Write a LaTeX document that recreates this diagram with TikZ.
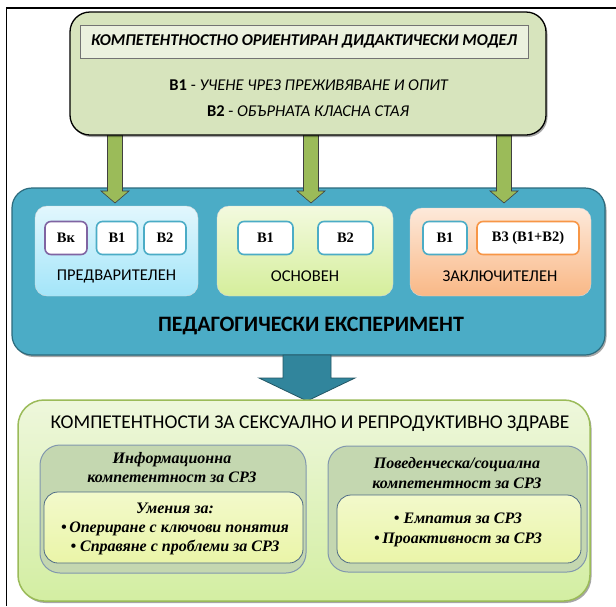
\documentclass[tikz,border=0pt]{standalone}
\usepackage{fontspec}
\setmainfont{Carlito}
\newfontfamily\tnr{Liberation Serif}
\usetikzlibrary{shadows}
\definecolor{topfill}{HTML}{D7E4BD}
\definecolor{titlefill}{HTML}{EBF1DE}
\definecolor{agreen}{HTML}{9BBB59}
\definecolor{bluebox}{HTML}{4BACC6}
\definecolor{blueedge}{HTML}{2C6B7D}
\definecolor{teal}{HTML}{31859C}
\definecolor{purp}{HTML}{8064A2}
\definecolor{orng}{HTML}{F79646}
\definecolor{grayg}{HTML}{C4D7B0}
\definecolor{grayedge}{HTML}{8197AE}
\definecolor{yell}{HTML}{EAF5A8}
\definecolor{yelledge}{HTML}{4D6A86}
\definecolor{predtop}{HTML}{E2F7FD}
\definecolor{predbot}{HTML}{A3E5F9}
\definecolor{osntop}{HTML}{F3FADF}
\definecolor{osnbot}{HTML}{D5EE9B}
\definecolor{zaktop}{HTML}{FDE9DA}
\definecolor{zakbot}{HTML}{F9B886}
\definecolor{comptop}{HTML}{EEF7DC}
\definecolor{compbot}{HTML}{D3EEA2}
\begin{document}
\begin{tikzpicture}[x=1pt,y=-1pt,
  shad/.style={drop shadow={shadow xshift=1.5pt,shadow yshift=-2pt,opacity=0.35,fill=black}},
  topbox/.style={draw=black,line width=1.3pt,fill=topfill,rounded corners=20pt,shad},
  titlebox/.style={draw=black!55,line width=0.8pt,fill=titlefill},
  bigblue/.style={draw=blueedge,line width=1.2pt,fill=bluebox,rounded corners=20pt,shad},
  phase/.style={rounded corners=12pt,draw=white!85!black,line width=0.4pt},
  small/.style={draw=bluebox,line width=1.6pt,fill=white,rounded corners=6pt,minimum height=33pt,
    font=\tnr\bfseries\fontsize{14.5}{16}\selectfont},
  lbl/.style={font=\fontsize{16.5}{18}\selectfont},
  outer/.style={draw=agreen,line width=1.5pt,rounded corners=26pt,top color=comptop,bottom color=compbot,shad},
  ggbox/.style={draw=grayedge,line width=1pt,fill=grayg,rounded corners=20pt},
  ybox/.style={draw=yelledge,line width=0.8pt,top color=yell!60!white,bottom color=yell,rounded corners=14pt},
  sbi/.style={font=\tnr\bfseries\itshape\fontsize{16}{19}\selectfont,align=center},
  garrow/.pic={\draw[fill=agreen,draw=black!75,line width=0.6pt]
     (-7.5,0) -- (7.5,0) -- (7.5,56) -- (14,56) -- (0,68) -- (-14,56) -- (-7.5,56) -- cycle;},
]
\useasboundingbox (0,0) rectangle (616,606);
\fill[white] (0,0) rectangle (616,606);
\draw[line width=1.4pt] (6.5,606) -- (6.5,8) -- (616,8);

% pedagogical experiment
\node[bigblue,minimum width=593pt,minimum height=167pt] (exp) at (308.5,271.5) {};
\node[phase,top color=predtop,bottom color=predbot,minimum width=163pt,minimum height=90pt] (pred) at (116.5,251) {};
\node[phase,top color=osntop,bottom color=osnbot,minimum width=176pt,minimum height=90pt] (osn) at (305,251) {};
\node[phase,top color=zaktop,bottom color=zakbot,minimum width=181pt,minimum height=88pt] (zak) at (500.5,252) {};

\node[small,draw=purp,minimum width=42pt] (vk) at (66,238) {Вк};
\node[small,minimum width=41pt] (p1) at (117,238) {В1};
\node[small,minimum width=42pt] (p2) at (165,238) {В2};
\node[small,minimum width=55pt] (o1) at (265.5,238) {В1};
\node[small,minimum width=55pt] (o2) at (345.5,238) {В2};
\node[small,minimum width=44pt] (z1) at (445,238) {В1};
\node[small,draw=orng,minimum width=102pt] (z3) at (528,238) {В3 (В1+В2)};

\node[lbl] (predl) at (116.5,276) {ПРЕДВАРИТЕЛЕН};
\node[lbl] (osnl) at (305,276) {ОСНОВЕН};
\node[lbl] (zakl) at (500,276) {ЗАКЛЮЧИТЕЛЕН};
\node[font=\bfseries\fontsize{22}{24}\selectfont] (expl) at (311,326) {ПЕДАГОГИЧЕСКИ ЕКСПЕРИМЕНТ};

% green arrows
\pic at (115,135) {garrow};
\pic at (311,135) {garrow};
\pic at (504,135) {garrow};

% model box
\node[topbox,minimum width=476pt,minimum height=123pt] (model) at (308,73.5) {};
\node[titlebox,minimum width=448pt,minimum height=33pt,
  font=\bfseries\itshape\fontsize{16.5}{18}\selectfont] (title) at (304,41.5)
  {КОМПЕТЕНТНОСТНО ОРИЕНТИРАН ДИДАКТИЧЕСКИ МОДЕЛ};
\node[font=\fontsize{16.5}{18}\selectfont] (b1) at (309,85.5) {\textbf{В1} - \textit{УЧЕНЕ ЧРЕЗ ПРЕЖИВЯВАНЕ И ОПИТ}};
\node[font=\fontsize{16.5}{18}\selectfont] (b2) at (308,111.5) {\textbf{В2} - \textit{ОБЪРНАТА КЛАСНА СТАЯ}};

% big arrow
\draw[fill=teal,draw=blueedge!80!black,line width=0.8pt]
  (283,355) -- (331,355) -- (331,378) -- (355,378) -- (307,401) -- (259,378) -- (283,378) -- cycle;

% competences
\node[outer,minimum width=572pt,minimum height=201pt] (comp) at (304,500.5) {};
\node[font=\fontsize{19.5}{22}\selectfont] (compl) at (310,424) {КОМПЕТЕНТНОСТИ ЗА СЕКСУАЛНО И РЕПРОДУКТИВНО ЗДРАВЕ};
\node[ggbox,minimum width=266pt,minimum height=128pt] (info) at (173,509) {};
\node[ybox,minimum width=259pt,minimum height=71pt] (infoy) at (173.5,527.5) {};
\node[ggbox,minimum width=259pt,minimum height=126pt] (beh) at (457.5,509) {};
\node[ybox,minimum width=244pt,minimum height=68pt] (behy) at (459,529) {};

\node[sbi] (infot) at (172,467.5) {Информационна\\компетентност за СРЗ};
\node[sbi] (infos) at (175,529) {Умения за:\\•\,Опериране с ключови понятия\\• Справяне с проблеми за СРЗ};
\node[sbi] (beht) at (457,473) {Поведенческа/социална\\[1pt]компетентност за СРЗ};
\node[sbi] (behs) at (458,530) {• Емпатия за СРЗ\\[1pt]•\,Проактивност за СРЗ};
\end{tikzpicture}
\end{document}
